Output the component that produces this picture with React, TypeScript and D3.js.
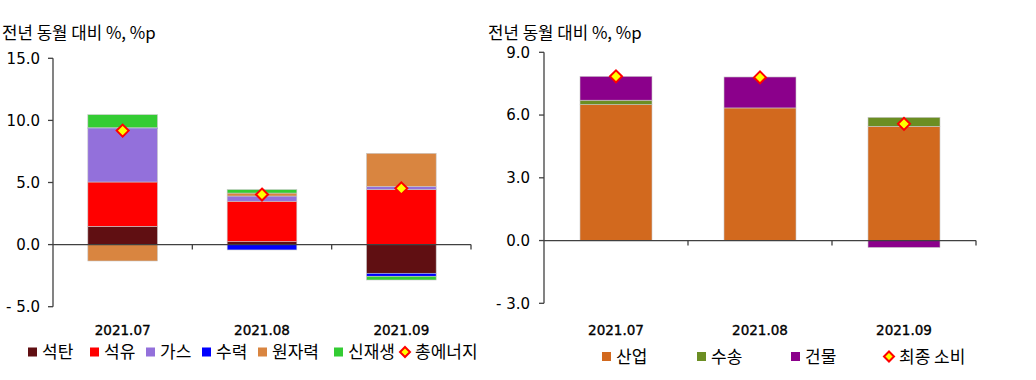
import React from 'react';
import * as d3 from 'd3';

// ---------- data ----------
const categories = ['2021.07', '2021.08', '2021.09'];

// left: 전년 동월 대비 기여도 (에너지원별)
const leftKeys = ['석탄', '석유', '가스', '수력', '원자력', '신재생'];
const coal = [1.47, 0.24, -2.31];
const oil = [3.57, 3.25, 4.43];
const gas = [4.3, 0.42, 0.26];
const hydro = [0.07, -0.43, -0.24];
const nuclear = [-1.32, 0.24, 2.66];
const renewable = [1.05, 0.28, -0.3];
const totalEnergy = [9.18, 4.03, 4.53];
const leftTicks = [-5, 0, 5, 10, 15];

// right: 부문별
const rightKeys = ['산업', '수송', '건물'];
const industry = [6.5, 6.34, 5.46];
const transport = [0.21, 0.0, 0.43];
const building = [1.14, 1.48, -0.33];
const finalConsumption = [7.85, 7.8, 5.58];
const rightTicks = [-3, 0, 3, 6, 9];

const leftColors = ['#600f12', '#ff0000', '#9370db', '#0000ff', '#d98540', '#33cc33'];
const rightColors = ['#d2691e', '#6b8e23', '#8b008b'];

const KR = '"Noto Sans CJK KR", "Noto Sans", sans-serif';
const NUM = '"DejaVu Sans", Verdana, sans-serif';

const fmt = (v: number) => (v < 0 ? '- ' + Math.abs(v).toFixed(1) : v.toFixed(1));

type PanelProps = {
  keys: string[];
  series: number[][];
  totals: number[];
  totalLabel: string;
  colors: string[];
  ticks: number[];
  x0: number;
  x1: number;
  yTop: number;
  yBottom: number;
  titleX: number;
  labelRight: number;
  legendY: number;
  legendXs: number[];
};

function Diamond({ cx, cy, r }: { cx: number; cy: number; r: number }) {
  return (
    <path
      d={`M${cx},${cy - r}L${cx + r},${cy}L${cx},${cy + r}L${cx - r},${cy}Z`}
      fill="#ffff00"
      stroke="#ff0000"
      strokeWidth={2}
    />
  );
}

function Panel(p: PanelProps) {
  const x = d3.scaleBand<string>().domain(categories).range([p.x0, p.x1]).padding(0);
  const y = d3
    .scaleLinear()
    .domain([p.ticks[0], p.ticks[p.ticks.length - 1]])
    .range([p.yBottom, p.yTop]);

  const rows = categories.map((c, i) => {
    const r: any = { cat: c };
    p.keys.forEach((k, j) => (r[k] = p.series[j][i]));
    return r;
  });
  const stacked = d3.stack<any>().keys(p.keys).offset(d3.stackOffsetDiverging)(rows);
  const bw = x.bandwidth() * 0.5;
  const y0 = y(0);

  return (
    <g>
      <text x={p.titleX} y={39} fontFamily={KR} fontSize={16.8} fill="#000">
        전년 동월 대비 %, %p
      </text>
      {/* bars */}
      {stacked.map((s, j) => (
        <g key={p.keys[j]} fill={p.colors[j]}>
          {s.map((d, i) => {
            const top = y(Math.max(d[0], d[1]));
            const bot = y(Math.min(d[0], d[1]));
            if (bot - top <= 0) return null;
            const cx = (x(categories[i]) as number) + x.bandwidth() / 2;
            return (
              <rect
                key={i}
                x={cx - bw / 2}
                y={top}
                width={bw}
                height={bot - top}
                stroke="#c8c8c8"
                strokeWidth={0.6}
              />
            );
          })}
        </g>
      ))}
      {/* y axis */}
      <line x1={p.x0} x2={p.x0} y1={y(p.ticks[p.ticks.length - 1])} y2={y(p.ticks[0])} stroke="#404040" strokeWidth={1.3} />
      {p.ticks.map((t) => (
        <g key={t}>
          <line x1={p.x0 - 5} x2={p.x0} y1={y(t)} y2={y(t)} stroke="#404040" strokeWidth={1.3} />
          <text x={p.labelRight} y={y(t)} dy="0.36em" textAnchor="end" fontFamily={NUM} fontSize={15} fill="#000">
            {fmt(t)}
          </text>
        </g>
      ))}
      {/* x axis */}
      <line x1={p.x0} x2={p.x1} y1={y0} y2={y0} stroke="#404040" strokeWidth={1.3} />
      {categories.map((c) => {
        const bx = (x(c) as number) + x.bandwidth();
        return <line key={c} x1={bx} x2={bx} y1={y0} y2={y0 + 5} stroke="#404040" strokeWidth={1.3} />;
      })}
      {categories.map((c) => (
        <text
          key={c}
          x={(x(c) as number) + x.bandwidth() / 2}
          y={335}
          textAnchor="middle"
          fontFamily={NUM}
          fontSize={13.5}
          stroke="#000"
          strokeWidth={0.35}
          fill="#000"
        >
          {c}
        </text>
      ))}
      {/* totals */}
      {p.totals.map((v, i) => (
        <Diamond key={i} cx={(x(categories[i]) as number) + x.bandwidth() / 2} cy={y(v)} r={6} />
      ))}
      {/* legend */}
      {p.keys.map((k, j) => (
        <g key={k}>
          <rect x={p.legendXs[j]} y={p.legendY - 4.5} width={9} height={9} fill={p.colors[j]} />
          <text x={p.legendXs[j] + 14} y={p.legendY} dy="0.36em" fontFamily={KR} fontSize={17} fill="#000">
            {k}
          </text>
        </g>
      ))}
      <Diamond cx={p.legendXs[p.keys.length] + 5} cy={p.legendY} r={5} />
      <text
        x={p.legendXs[p.keys.length] + 15}
        y={p.legendY}
        dy="0.36em"
        fontFamily={KR}
        fontSize={17}
        fill="#000"
      >
        {p.totalLabel}
      </text>
    </g>
  );
}

export default function App() {
  return (
    <svg
      width={1036}
      height={380}
      style={{ position: 'absolute', left: 0, top: 0, background: '#fff' }}
    >
      <Panel
        keys={leftKeys}
        series={[coal, oil, gas, hydro, nuclear, renewable]}
        totals={totalEnergy}
        totalLabel="총에너지"
        colors={leftColors}
        ticks={leftTicks}
        x0={53}
        x1={471}
        yTop={58.3}
        yBottom={306.7}
        titleX={2}
        labelRight={40}
        legendY={352}
        legendXs={[28, 90, 146, 202, 258, 334, 400]}
      />
      <Panel
        keys={rightKeys}
        series={[industry, transport, building]}
        totals={finalConsumption}
        totalLabel="최종 소비"
        colors={rightColors}
        ticks={rightTicks}
        x0={544}
        x1={976}
        yTop={52.3}
        yBottom={303.3}
        titleX={488}
        labelRight={530}
        legendY={356.5}
        legendXs={[602, 697, 791, 884]}
      />
    </svg>
  );
}
